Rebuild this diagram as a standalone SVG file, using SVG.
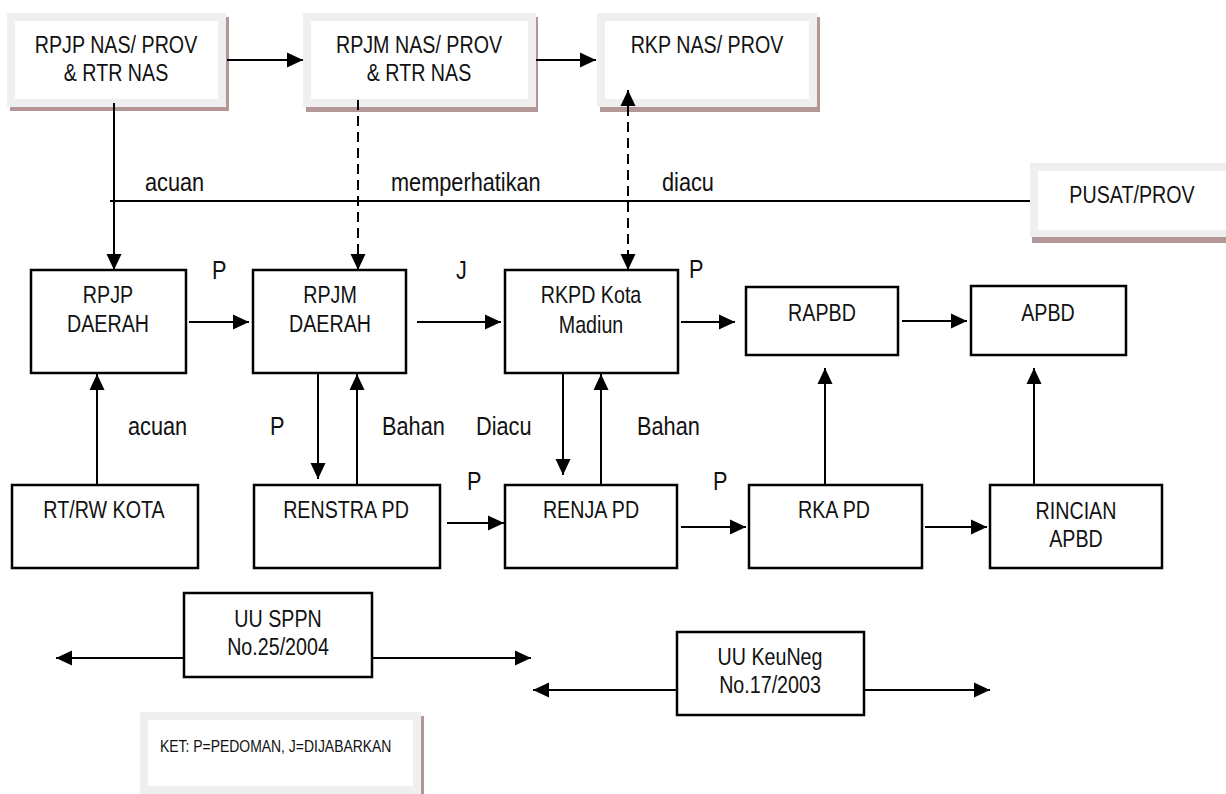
<svg xmlns="http://www.w3.org/2000/svg" width="1226" height="794" viewBox="0 0 1226 794">
<style>
text{font-family:"Liberation Sans",Arial,sans-serif;font-size:24px;fill:#111}
.c{text-anchor:middle}
.lb{font-size:26.5px}
.k{font-size:17px}
.box{fill:#fff;stroke:#000;stroke-width:2.5}
.sh{fill:#b39696}
.fr{fill:#efefef}
.in{fill:#fff}
.ln{stroke:#000;stroke-width:2;fill:none}
.ar{marker-end:url(#ah)}
.bi{marker-start:url(#ahs);marker-end:url(#ah)}
.ds{stroke-dasharray:10 6}
</style>
<defs>
<marker id="ah" markerUnits="userSpaceOnUse" markerWidth="18" markerHeight="16" refX="16" refY="7.5" orient="auto" overflow="visible"><path d="M0,0 L16,7.5 L0,15 z" fill="#000"/></marker>
<marker id="ahs" markerUnits="userSpaceOnUse" markerWidth="18" markerHeight="16" refX="16" refY="7.5" orient="auto-start-reverse" overflow="visible"><path d="M0,0 L16,7.5 L0,15 z" fill="#000"/></marker>
</defs>
<rect width="1226" height="794" fill="#fff"/>

<g id="rpjp-nas">
<rect class="sh" x="10" y="17" width="219" height="94"/>
<rect class="fr" x="7" y="13" width="219" height="94"/>
<rect class="in" x="15" y="21" width="203" height="78"/>
<text class="c" transform="translate(116,53) scale(0.82,1)">RPJP NAS/ PROV</text>
<text class="c" transform="translate(116,81) scale(0.82,1)">&amp; RTR NAS</text>
</g>
<g id="rpjm-nas">
<rect class="sh" x="306" y="17" width="232" height="95"/>
<rect class="fr" x="303" y="13" width="233" height="94"/>
<rect class="in" x="311" y="21" width="217" height="78"/>
<text class="c" transform="translate(419,53) scale(0.82,1)">RPJM NAS/ PROV</text>
<text class="c" transform="translate(419,81) scale(0.82,1)">&amp; RTR NAS</text>
</g>
<g id="rkp-nas">
<rect class="sh" x="600" y="17" width="220" height="95"/>
<rect class="fr" x="597" y="13" width="220" height="94"/>
<rect class="in" x="605" y="21" width="204" height="78"/>
<text class="c" transform="translate(707,53) scale(0.82,1)">RKP NAS/ PROV</text>
</g>
<g id="pusat-prov">
<rect class="sh" x="1032" y="167" width="200" height="76"/>
<rect class="fr" x="1030" y="163" width="200" height="74"/>
<rect class="in" x="1038" y="171" width="192" height="59"/>
<text class="c" transform="translate(1132,203) scale(0.82,1)">PUSAT/PROV</text>
</g>

<g id="rpjp-daerah">
<rect class="box" x="31" y="270" width="155" height="103"/>
<text class="c" transform="translate(108,303) scale(0.82,1)">RPJP</text>
<text class="c" transform="translate(108,332) scale(0.82,1)">DAERAH</text>
</g>
<g id="rpjm-daerah">
<rect class="box" x="253" y="270" width="153" height="103"/>
<text class="c" transform="translate(330,303) scale(0.82,1)">RPJM</text>
<text class="c" transform="translate(330,332) scale(0.82,1)">DAERAH</text>
</g>
<g id="rkpd">
<rect class="box" x="505" y="270" width="173" height="103"/>
<text class="c" transform="translate(591,303) scale(0.82,1)">RKPD Kota</text>
<text class="c" transform="translate(591,333) scale(0.82,1)">Madiun</text>
</g>
<g id="rapbd">
<rect class="box" x="746" y="287" width="152" height="68"/>
<text class="c" transform="translate(822,321) scale(0.82,1)">RAPBD</text>
</g>
<g id="apbd">
<rect class="box" x="971" y="286" width="155" height="69"/>
<text class="c" transform="translate(1048,321) scale(0.82,1)">APBD</text>
</g>

<g id="rtrw-kota">
<rect class="box" x="12" y="485" width="186" height="83"/>
<text class="c" transform="translate(104,518) scale(0.82,1)">RT/RW KOTA</text>
</g>
<g id="renstra-pd">
<rect class="box" x="254" y="485" width="186" height="83"/>
<text class="c" transform="translate(346,518) scale(0.82,1)">RENSTRA PD</text>
</g>
<g id="renja-pd">
<rect class="box" x="505" y="485" width="172" height="83"/>
<text class="c" transform="translate(591,518) scale(0.82,1)">RENJA PD</text>
</g>
<g id="rka-pd">
<rect class="box" x="749" y="485" width="173" height="83"/>
<text class="c" transform="translate(834,518) scale(0.82,1)">RKA PD</text>
</g>
<g id="rincian-apbd">
<rect class="box" x="990" y="485" width="172" height="83"/>
<text class="c" transform="translate(1076,519) scale(0.82,1)">RINCIAN</text>
<text class="c" transform="translate(1076,547) scale(0.82,1)">APBD</text>
</g>

<g id="uu-sppn">
<rect class="box" x="184" y="593" width="188" height="84"/>
<text class="c" transform="translate(278,627) scale(0.82,1)">UU SPPN</text>
<text class="c" transform="translate(278,655) scale(0.82,1)">No.25/2004</text>
</g>
<g id="uu-keuneg">
<rect class="box" x="677" y="632" width="187" height="83"/>
<text class="c" transform="translate(770,665) scale(0.82,1)">UU KeuNeg</text>
<text class="c" transform="translate(770,693) scale(0.82,1)">No.17/2003</text>
</g>

<g id="ket">
<rect class="sh" x="143" y="716" width="281" height="84"/>
<rect class="fr" x="140" y="712" width="281" height="84"/>
<rect class="in" x="148" y="720" width="265" height="66"/>
<text class="k" transform="translate(160,752) scale(0.82,1)">KET: P=PEDOMAN, J=DIJABARKAN</text>
</g>

<g id="connectors">
<line class="ln ar" x1="227" y1="60" x2="303" y2="60"/>
<line class="ln ar" x1="536" y1="60" x2="596" y2="60"/>
<line class="ln ar" x1="114" y1="103" x2="114" y2="270"/>
<line class="ln ar ds" x1="358" y1="100" x2="358" y2="270"/>
<line class="ln bi ds" x1="628" y1="90" x2="628" y2="270"/>
<line class="ln" x1="110" y1="201" x2="1030" y2="201"/>
<line class="ln ar" x1="189" y1="322" x2="249" y2="322"/>
<line class="ln ar" x1="417" y1="322" x2="501" y2="322"/>
<line class="ln ar" x1="681" y1="322" x2="735" y2="322"/>
<line class="ln ar" x1="902" y1="321" x2="967" y2="321"/>
<line class="ln ar" x1="97" y1="485" x2="97" y2="374"/>
<line class="ln ar" x1="318" y1="374" x2="318" y2="479"/>
<line class="ln ar" x1="357" y1="485" x2="357" y2="374"/>
<line class="ln ar" x1="563" y1="374" x2="563" y2="475"/>
<line class="ln ar" x1="601" y1="485" x2="601" y2="374"/>
<line class="ln ar" x1="447" y1="523" x2="504" y2="523"/>
<line class="ln ar" x1="681" y1="527" x2="746" y2="527"/>
<line class="ln ar" x1="825" y1="485" x2="825" y2="368"/>
<line class="ln ar" x1="925" y1="527" x2="987" y2="527"/>
<line class="ln ar" x1="1034" y1="484" x2="1034" y2="368"/>
<line class="ln ar" x1="184" y1="658" x2="56" y2="658"/>
<line class="ln ar" x1="372" y1="658" x2="531" y2="658"/>
<line class="ln ar" x1="677" y1="690" x2="533" y2="690"/>
<line class="ln ar" x1="864" y1="690" x2="990" y2="690"/>
</g>

<g id="labels">
<text class="lb" transform="translate(145,191) scale(0.82,1)">acuan</text>
<text class="lb" transform="translate(391,191) scale(0.82,1)">memperhatikan</text>
<text class="lb" transform="translate(662,191) scale(0.82,1)">diacu</text>
<text class="lb" transform="translate(212,279) scale(0.82,1)">P</text>
<text class="lb" transform="translate(456,279) scale(0.82,1)">J</text>
<text class="lb" transform="translate(689,278) scale(0.82,1)">P</text>
<text class="lb" transform="translate(128,435) scale(0.82,1)">acuan</text>
<text class="lb" transform="translate(270,435) scale(0.82,1)">P</text>
<text class="lb" transform="translate(382,435) scale(0.82,1)">Bahan</text>
<text class="lb" transform="translate(476,435) scale(0.82,1)">Diacu</text>
<text class="lb" transform="translate(637,435) scale(0.82,1)">Bahan</text>
<text class="lb" transform="translate(467,490) scale(0.82,1)">P</text>
<text class="lb" transform="translate(713,490) scale(0.82,1)">P</text>
</g>
</svg>
